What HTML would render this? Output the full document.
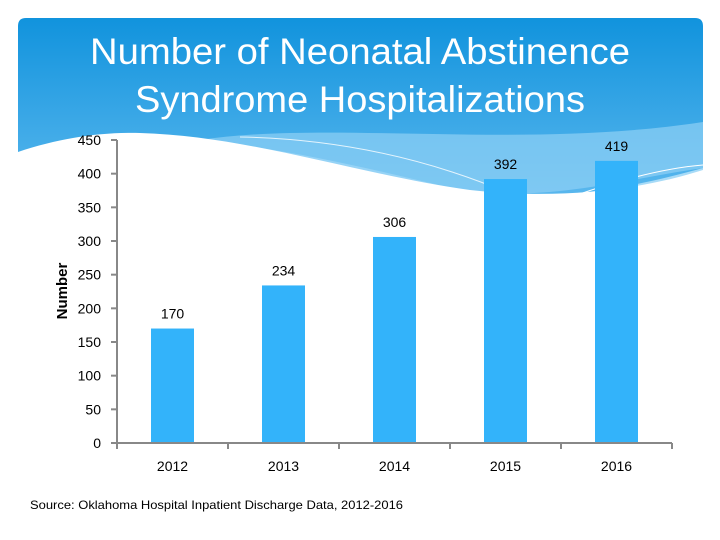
<!DOCTYPE html>
<html><head><meta charset="utf-8"><style>
body{margin:0;background:#fff;}
svg{display:block;font-family:"Liberation Sans",sans-serif;}
</style></head><body>
<svg id="c" width="720" height="540">
<defs>
<linearGradient id="bg" x1="0" y1="0" x2="0" y2="1">
<stop offset="0" stop-color="#1193dd"/><stop offset="1" stop-color="#5bb8ee"/>
</linearGradient>
</defs>
<g>
<path d="M26,18 H695 Q703,18 703,26 V200 H18 V26 Q18,18 26,18 Z" fill="url(#bg)"/>
<path d="M18,200 V160 C150,110 330,160 460,190 C560,205 640,185 703,168 V200 Z" fill="#a8dbf7"/>
<path d="M200,140 C330,120 520,150 703,122 V168 C620,180 560,200 460,192 C360,180 280,150 200,140 Z" fill="#8fd0f5" opacity="0.7"/>
<path d="M18,200 V152 C60,138 100,132 140,133 C250,136 360,175 470,190 C560,200 640,190 703,170 V220 H18 Z" fill="#fff"/>
<path d="M450,248 C550,200 640,170 703,165" stroke="#fff" fill="none" stroke-width="1"/>
<path d="M240,137 C400,140 520,190 620,250" stroke="#fff" fill="none" stroke-width="1" opacity="0.8"/>
</g>
<text x="360" y="64" text-anchor="middle" font-size="37" fill="#fff" textLength="540" lengthAdjust="spacingAndGlyphs">Number of Neonatal Abstinence</text>
<text x="360" y="112" text-anchor="middle" font-size="37" fill="#fff" textLength="450" lengthAdjust="spacingAndGlyphs">Syndrome Hospitalizations</text>
<text transform="translate(67,291) rotate(-90)" text-anchor="middle" font-size="15" font-weight="bold" fill="#000">Number</text>
<text x="30" y="509" font-size="12" fill="#000" textLength="373" lengthAdjust="spacingAndGlyphs">Source: Oklahoma Hospital Inpatient Discharge Data, 2012-2016</text>
<g id="plot"></g>
</svg>
<script>
const categories=["2012","2013","2014","2015","2016"];
const values=[170,234,306,392,419];
const yTicks=[0,50,100,150,200,250,300,350,400,450];
const X0=117,X1=672,Y0=443,YMAX=450,YTOP=140;
const bw=(X1-X0)/categories.length;
function y(v){return Y0-(v/YMAX)*(Y0-YTOP);}
function xc(i){return X0+bw*(i+0.5);}
const ns="http://www.w3.org/2000/svg";
const g=document.getElementById('plot');
function el(t,a,txt){const e=document.createElementNS(ns,t);for(const k in a)e.setAttribute(k,a[k]);if(txt!==undefined)e.textContent=txt;g.appendChild(e);return e;}
values.forEach((v,i)=>{
 const r=el('rect',{x:xc(i)-21.5,y:y(v),width:43,height:Y0-y(v),fill:'#33b3fa'});
 
 
 const t=el('text',{x:xc(i),y:y(v)-10,'text-anchor':'middle','font-size':14,fill:'#000'},String(v));
 
 
 const c=el('text',{x:xc(i),y:471,'text-anchor':'middle','font-size':14,fill:'#000'},categories[i]);
 
 
});
yTicks.forEach(v=>{
 const tk=el('line',{x1:X0-6,x2:X0,y1:y(v),y2:y(v),stroke:'#888','stroke-width':2});
 
 
 const t=el('text',{x:X0-16,y:y(v)+5,'text-anchor':'end','font-size':14,fill:'#000'},String(v));
 
 
});
for(let i=0;i<=categories.length;i++){
 const tk=el('line',{x1:X0+bw*i,x2:X0+bw*i,y1:Y0,y2:Y0+6,stroke:'#888','stroke-width':2});
 
 
}
const ya=el('line',{x1:X0,x2:X0,y1:YTOP,y2:Y0,stroke:'#888','stroke-width':2});


const xa=el('line',{x1:X0-6,x2:X1,y1:Y0,y2:Y0,stroke:'#888','stroke-width':2});


</script>
</body></html>
